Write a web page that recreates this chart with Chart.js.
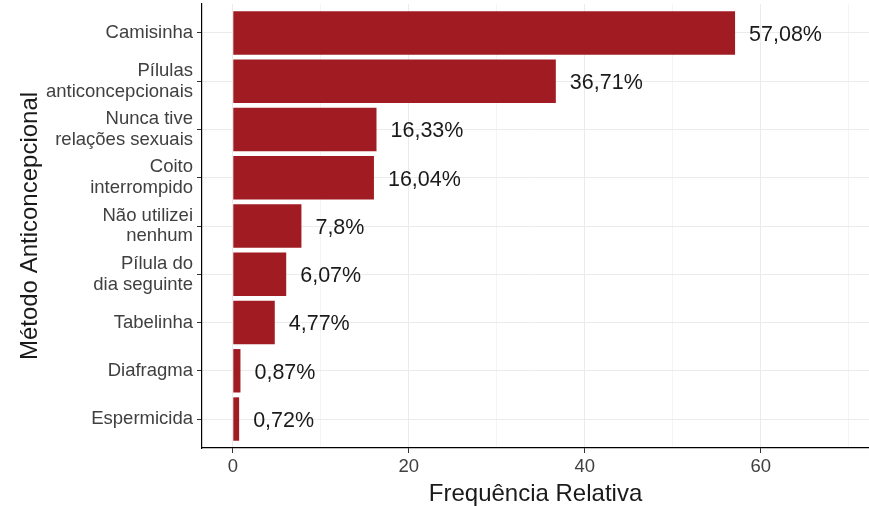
<!DOCTYPE html>
<html>
<head>
<meta charset="utf-8">
<script src="https://cdn.jsdelivr.net/npm/chart.js@4"></script>
<style>
  html, body { margin: 0; padding: 0; background: #ffffff; }
  #wrap { width: 869px; height: 506px; position: relative; }
</style>
</head>
<body>
<div id="wrap"><canvas id="grafico"></canvas></div>
<script>
// dados
var metodos = [
    'Camisinha',
    ['Pílulas', 'anticoncepcionais'],
    ['Nunca tive', 'relações sexuais'],
    ['Coito', 'interrompido'],
    ['Não utilizei', 'nenhum'],
    ['Pílula do', 'dia seguinte'],
    'Tabelinha',
    'Diafragma',
    'Espermicida'
];
var frequencias = [57.08, 36.71, 16.33, 16.04, 7.8, 6.07, 4.77, 0.87, 0.72];
var ticksX = [0, 10, 20, 30, 40, 50, 60, 70];

var fonte = "'Liberation Sans', Arial, Helvetica, sans-serif";

// rótulos de porcentagem ao lado das barras
var rotulos = {
    id: 'rotulos',
    afterDatasetsDraw: function (chart) {
        var ctx = chart.ctx;
        var meta = chart.getDatasetMeta(0);
        ctx.save();
        ctx.font = '21.5px ' + fonte;
        ctx.fillStyle = '#1a1a1a';
        ctx.textAlign = 'left';
        ctx.textBaseline = 'middle';
        meta.data.forEach(function (barra, i) {
            var txt = String(frequencias[i]).replace('.', ',') + '%';
            ctx.fillText(txt, barra.x + 14, barra.y + 2);
        });
        ctx.restore();
    }
};

function DrawBar() {
    var pontos = frequencias.map(function (v, i) { return { x: v, y: i }; });

    new Chart(document.getElementById('grafico'), {
        type: 'bar',
        data: {
            datasets: [{
                data: pontos,
                backgroundColor: '#A01C22',
                borderWidth: 0,
                barPercentage: 0.9,
                categoryPercentage: 1.0
            }]
        },
        options: {
            indexAxis: 'y',
            responsive: true,
            maintainAspectRatio: false,
            animation: false,
            layout: { padding: { top: 4, right: 0, bottom: 0, left: 0 } },
            plugins: {
                legend: { display: false },
                tooltip: { enabled: false }
            },
            scales: {
                x: {
                    type: 'linear',
                    min: -3.5,
                    max: 72.3,
                    afterBuildTicks: function (scale) {
                        scale.ticks = ticksX.map(function (v) { return { value: v }; });
                    },
                    afterFit: function (scale) {
                        scale.height = 58;
                        scale.paddingLeft = 0;
                        scale.paddingRight = 0;
                    },
                    ticks: {
                        padding: 3,
                        maxRotation: 0,
                        color: '#404040',
                        font: { family: fonte, size: 18.5 },
                        callback: function (v) { return v % 20 === 0 ? String(v) : ''; }
                    },
                    grid: {
                        color: function (c) { return c.tick && c.tick.value % 20 === 0 ? '#ebebeb' : '#f4f4f4'; },
                        lineWidth: 1,
                        tickLength: 5,
                        tickColor: function (c) { return c.tick && c.tick.value % 20 === 0 ? '#333333' : 'rgba(0,0,0,0)'; }
                    },
                    border: { display: true, color: '#000000', width: 1.2 },
                    title: {
                        display: true,
                        text: 'Frequência Relativa',
                        color: '#1a1a1a',
                        font: { family: fonte, size: 24, lineHeight: 1 },
                        padding: { top: 0, bottom: 0 }
                    }
                },
                y: {
                    type: 'linear',
                    reverse: true,
                    offset: false,
                    min: -0.6,
                    max: 8.6,
                    afterBuildTicks: function (scale) {
                        scale.ticks = metodos.map(function (m, i) { return { value: i }; });
                    },
                    afterFit: function (scale) {
                        scale.width = 202;
                        scale.paddingTop = 0;
                        scale.paddingBottom = 0;
                    },
                    ticks: {
                        padding: 4,
                        color: '#404040',
                        font: { family: fonte, size: 18.5, lineHeight: 1.12 },
                        callback: function (v) { return metodos[v]; }
                    },
                    grid: {
                        offset: false,
                        color: '#ebebeb',
                        lineWidth: 1,
                        tickLength: 5,
                        tickColor: '#333333'
                    },
                    border: { display: true, color: '#000000', width: 1.2 },
                    title: {
                        display: true,
                        text: 'Método Anticoncepcional',
                        color: '#1a1a1a',
                        font: { family: fonte, size: 24, lineHeight: 1 },
                        padding: { top: 18, bottom: 0 }
                    }
                }
            }
        },
        plugins: [rotulos]
    });
}

DrawBar();
</script>
</body>
</html>
